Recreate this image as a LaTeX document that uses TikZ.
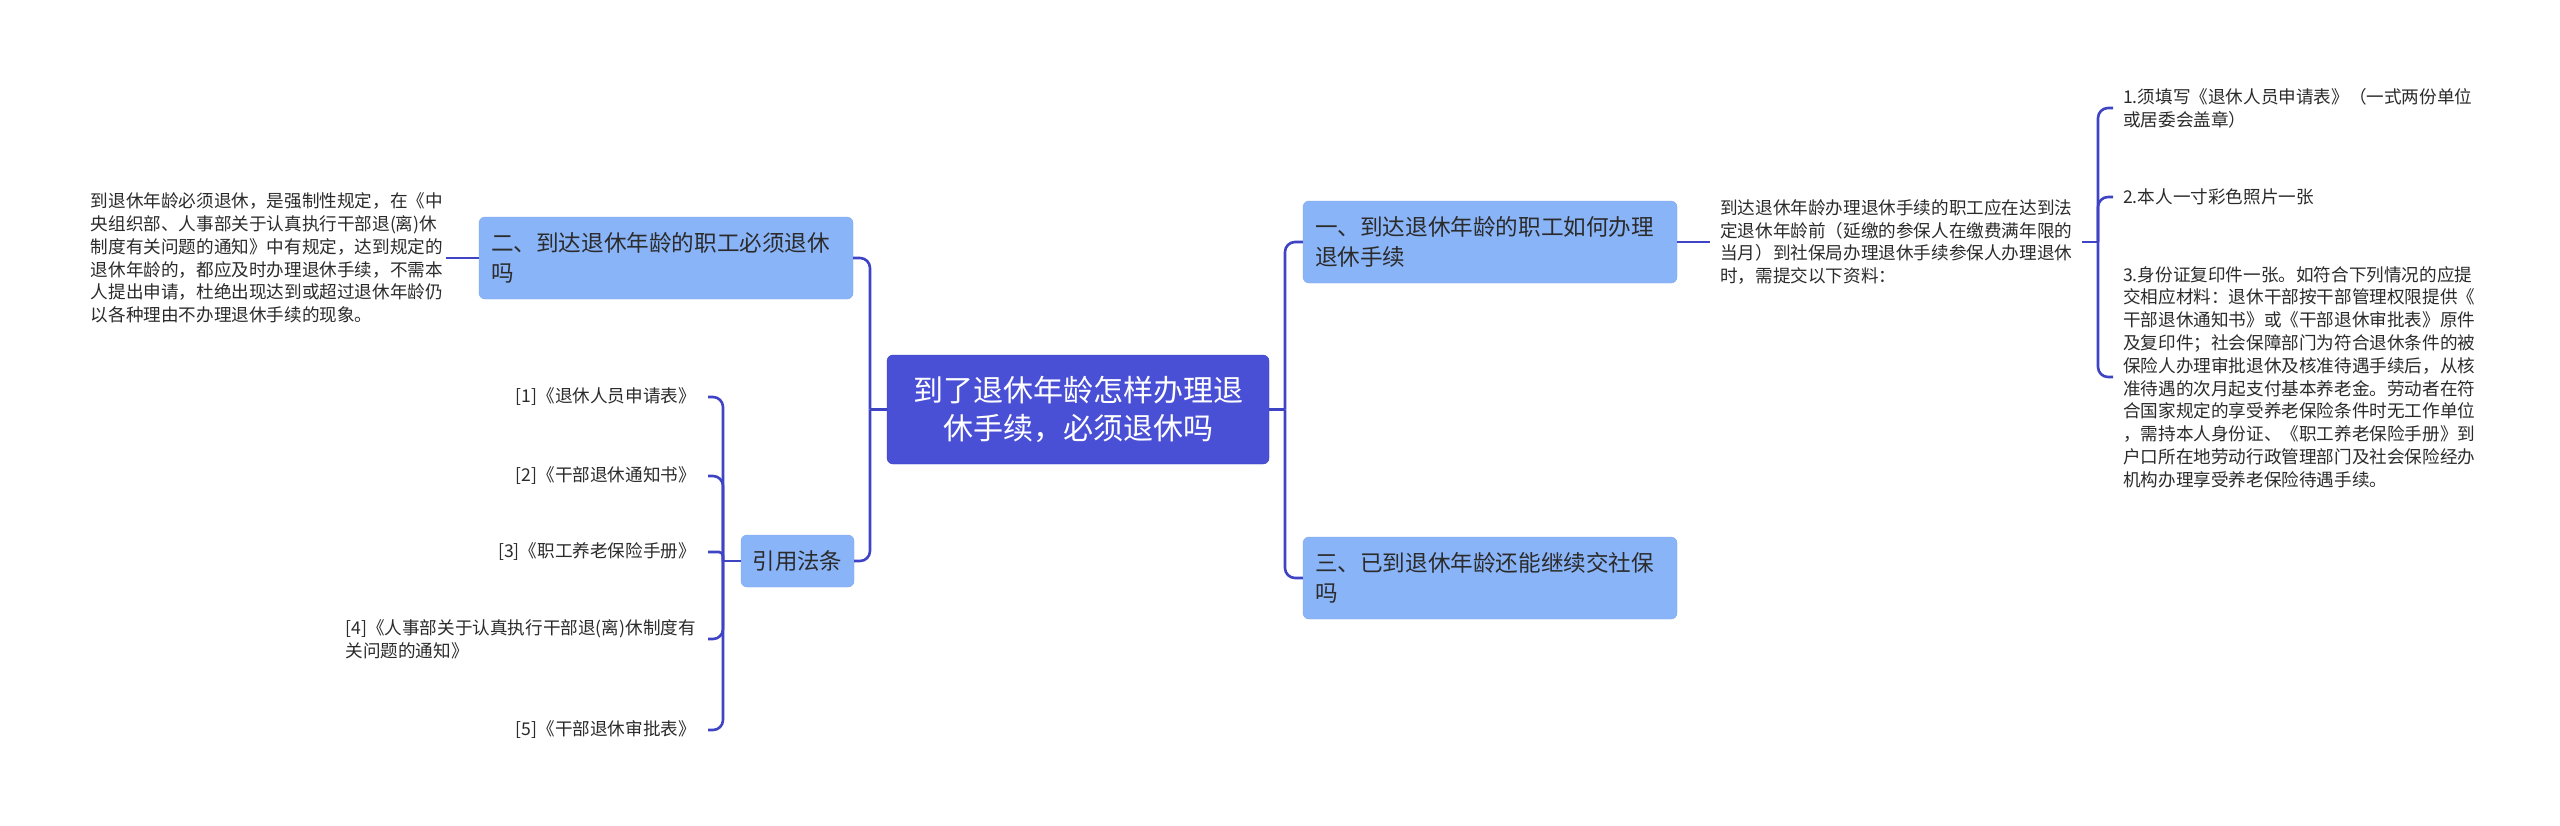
\documentclass[tikz,border=0pt]{standalone}
\usepackage{fontspec}
\setmainfont{Noto Sans CJK SC}
\usepackage{xcolor}
\usepackage{tikz}
\usetikzlibrary{positioning, calc}

\definecolor{hubfill}{HTML}{4A50D6}
\definecolor{hubline}{HTML}{3A3FB8}
\definecolor{topicfill}{HTML}{8AB4F8}
\definecolor{topicline}{HTML}{7DA7EF}
\definecolor{linkblue}{HTML}{3F44C4}
\definecolor{inktext}{HTML}{2B2B2B}

\begin{document}
\begin{tikzpicture}[x=1pt, y=-1pt,
  hub/.style={rectangle, rounded corners=6pt, draw=hubline, fill=hubfill,
              text=white, minimum width=382pt, minimum height=109pt,
              align=center, font=\fontsize{30}{38}\selectfont},
  topic/.style={rectangle, rounded corners=6pt, draw=topicline, fill=topicfill,
                text=inktext, text width=350pt, inner xsep=12pt,
                minimum height=82pt, align=left,
                font=\fontsize{22.6}{30}\selectfont},
  tag/.style={rectangle, rounded corners=6pt, draw=topicline, fill=topicfill,
              text=inktext, minimum width=113pt, minimum height=52pt,
              align=center, font=\fontsize{22.4}{30}\selectfont},
  note/.style={align=left, text=inktext, inner ysep=2pt,
               font=\fontsize{17.6}{22.8}\selectfont},
  link/.style={draw=linkblue, line width=2.6pt, rounded corners=10pt}
]
\useasboundingbox[fill=white] (0,0) rectangle (2560,825);

%% centre and main topics
\node[hub]   (root)   at (1078,409.5) {到了退休年龄怎样办理退\\休手续，必须退休吗};
\node[topic] (retire) at (666,258)  {二、到达退休年龄的职工必须退休\\吗};
\node[topic] (howto)  at (1490,242) {一、到达退休年龄的职工如何办理\\退休手续};
\node[topic] (social) at (1490,578) {三、已到退休年龄还能继续交社保\\吗};
\node[tag]   (laws)   at (797.5,561) {引用法条};

%% notes
\node[note, anchor=east, inner xsep=3pt] (retirenote) at (446,258)
  {到退休年龄必须退休，是强制性规定，在《中\\
   央组织部、人事部关于认真执行干部退(离)休\\
   制度有关问题的通知》中有规定，达到规定的\\
   退休年龄的，都应及时办理退休手续，不需本\\
   人提出申请，杜绝出现达到或超过退休年龄仍\\
   以各种理由不办理退休手续的现象。};
\node[note, anchor=west, inner xsep=10pt] (hownote) at (1710,242)
  {到达退休年龄办理退休手续的职工应在达到法\\
   定退休年龄前（延缴的参保人在缴费满年限的\\
   当月）到社保局办理退休手续参保人办理退休\\
   时，需提交以下资料：};

%% documents to hand in
\node[note, anchor=west, inner xsep=10pt] (doc1) at (2113,108)
  {1.须填写《退休人员申请表》（一式两份单位\\或居委会盖章）};
\node[note, anchor=west, inner xsep=10pt] (doc2) at (2113,197)
  {2.本人一寸彩色照片一张};
\node[note, anchor=west, inner xsep=10pt] (doc3) at (2113,377)
  {3.身份证复印件一张。如符合下列情况的应提\\
   交相应材料：退休干部按干部管理权限提供《\\
   干部退休通知书》或《干部退休审批表》原件\\
   及复印件；社会保障部门为符合退休条件的被\\
   保险人办理审批退休及核准待遇手续后，从核\\
   准待遇的次月起支付基本养老金。劳动者在符\\
   合国家规定的享受养老保险条件时无工作单位\\
   ，需持本人身份证、《职工养老保险手册》到\\
   户口所在地劳动行政管理部门及社会保险经办\\
   机构办理享受养老保险待遇手续。};

%% cited regulations
\node[note, anchor=east, inner xsep=12pt] (law1) at (708,397) {[1]《退休人员申请表》};
\node[note, anchor=east, inner xsep=12pt] (law2) at (708,476) {[2]《干部退休通知书》};
\node[note, anchor=east, inner xsep=12pt] (law3) at (708,552) {[3]《职工养老保险手册》};
\node[note, anchor=east, inner xsep=12pt] (law4) at (708,639)
  {[4]《人事部关于认真执行干部退(离)休制度有\\关问题的通知》};
\node[note, anchor=east, inner xsep=12pt] (law5) at (708,730) {[5]《干部退休审批表》};

%% bracket joints
\coordinate (rootL) at (870,409.5);
\coordinate (rootR) at (1285,409.5);
\coordinate (docJ)  at (2098,242);
\coordinate (lawsJ) at (723,561);

%% connectors
\draw[link] (root.west) -- (rootL);
\draw[link] (rootL) |- (retire.east);
\draw[link] (rootL) |- (laws.east);
\draw[link] (root.east) -- (rootR);
\draw[link] (rootR) |- (howto.west);
\draw[link] (rootR) |- (social.west);
\draw[link] (retire.west) -- (retirenote.east);
\draw[link] (howto.east) -- (hownote.west);
\draw[link] (hownote.east) -- (docJ);
\foreach \d in {doc1,doc2,doc3}
  \draw[link] (docJ) |- (\d.west);
\draw[link] (laws.west) -- (lawsJ);
\foreach \l in {law1,law2,law4,law5}
  \draw[link] (lawsJ) |- (\l.east);
\draw[link, rounded corners=4pt] (lawsJ) |- (law3.east);
\end{tikzpicture}
\end{document}
